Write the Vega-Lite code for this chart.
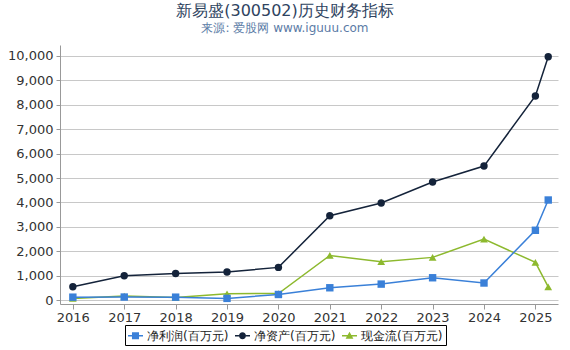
{
  "$schema": "https://vega.github.io/schema/vega-lite/v6.json",
  "autosize": "none",
  "width": 498,
  "height": 259,
  "padding": {"left": 60, "top": 45, "right": 12, "bottom": 46},
  "background": "white",
  "title": {
    "text": "新易盛(300502)历史财务指标",
    "subtitle": "来源: 爱股网 www.iguuu.com",
    "anchor": "middle",
    "dx": -24,
    "offset": 11,
    "fontSize": 16,
    "fontWeight": "normal",
    "font": "DejaVu Sans",
    "color": "#2e4360",
    "subtitleFont": "DejaVu Sans",
    "subtitleFontSize": 12,
    "subtitleColor": "#5b7ba6",
    "subtitlePadding": 4
  },
  "config": {
    "view": {"stroke": null},
    "axis": {
      "labelFont": "DejaVu Sans",
      "labelFontSize": 13,
      "labelColor": "#333333",
      "domainColor": "#999999",
      "tickColor": "#999999",
      "gridColor": "#c8c8c8",
      "title": null
    },
    "legend": {
      "labelFont": "DejaVu Sans",
      "labelFontSize": 12,
      "labelColor": "#222222"
    }
  },
  "data": {
    "values": [
      {"year": 2016, "s": "净利润(百万元)", "v": 120},
      {"year": 2017, "s": "净利润(百万元)", "v": 125},
      {"year": 2018, "s": "净利润(百万元)", "v": 120},
      {"year": 2019, "s": "净利润(百万元)", "v": 70},
      {"year": 2020, "s": "净利润(百万元)", "v": 230},
      {"year": 2021, "s": "净利润(百万元)", "v": 505},
      {"year": 2022, "s": "净利润(百万元)", "v": 655},
      {"year": 2023, "s": "净利润(百万元)", "v": 915},
      {"year": 2024, "s": "净利润(百万元)", "v": 700},
      {"year": 2025, "s": "净利润(百万元)", "v": 2860},
      {"year": 2025.25, "s": "净利润(百万元)", "v": 4100},
      {"year": 2016, "s": "净资产(百万元)", "v": 545},
      {"year": 2017, "s": "净资产(百万元)", "v": 1000},
      {"year": 2018, "s": "净资产(百万元)", "v": 1090},
      {"year": 2019, "s": "净资产(百万元)", "v": 1150},
      {"year": 2020, "s": "净资产(百万元)", "v": 1340},
      {"year": 2021, "s": "净资产(百万元)", "v": 3455},
      {"year": 2022, "s": "净资产(百万元)", "v": 3975},
      {"year": 2023, "s": "净资产(百万元)", "v": 4840},
      {"year": 2024, "s": "净资产(百万元)", "v": 5490},
      {"year": 2025, "s": "净资产(百万元)", "v": 8360},
      {"year": 2025.25, "s": "净资产(百万元)", "v": 9970},
      {"year": 2016, "s": "现金流(百万元)", "v": 70},
      {"year": 2017, "s": "现金流(百万元)", "v": 165},
      {"year": 2018, "s": "现金流(百万元)", "v": 110},
      {"year": 2019, "s": "现金流(百万元)", "v": 260},
      {"year": 2020, "s": "现金流(百万元)", "v": 270},
      {"year": 2021, "s": "现金流(百万元)", "v": 1830},
      {"year": 2022, "s": "现金流(百万元)", "v": 1570},
      {"year": 2023, "s": "现金流(百万元)", "v": 1750},
      {"year": 2024, "s": "现金流(百万元)", "v": 2500},
      {"year": 2025, "s": "现金流(百万元)", "v": 1545},
      {"year": 2025.25, "s": "现金流(百万元)", "v": 545}
    ]
  },
  "encoding": {
    "x": {
      "field": "year",
      "type": "quantitative",
      "scale": {"domain": [2015.75, 2025.44], "nice": false, "zero": false},
      "axis": {"values": [2016, 2017, 2018, 2019, 2020, 2021, 2022, 2023, 2024, 2025], "format": "d", "grid": false, "tickSize": 5, "labelPadding": 2}
    },
    "y": {
      "field": "v",
      "type": "quantitative",
      "scale": {"domain": [-160, 10450], "nice": false, "zero": false},
      "axis": {"values": [0, 1000, 2000, 3000, 4000, 5000, 6000, 7000, 8000, 9000, 10000], "format": ",.0f", "grid": true, "tickSize": 4, "labelPadding": 3}
    }
  },
  "layer": [
    {
      "transform": [{"filter": "datum.s == '现金流(百万元)'"}],
      "mark": {"type": "line", "strokeWidth": 1.5, "color": "#8db92e"}
    },
    {
      "transform": [{"filter": "datum.s == '净资产(百万元)'"}],
      "mark": {"type": "line", "strokeWidth": 1.5, "color": "#14233a"}
    },
    {
      "transform": [{"filter": "datum.s == '净利润(百万元)'"}],
      "mark": {"type": "line", "strokeWidth": 1.5, "color": "#3a80d8"}
    },
    {
      "transform": [{"filter": "datum.s == '现金流(百万元)'"}],
      "mark": {"type": "point", "filled": true, "shape": "triangle-up", "size": 60, "color": "#8db92e", "opacity": 1}
    },
    {
      "transform": [{"filter": "datum.s == '净资产(百万元)'"}],
      "mark": {"type": "point", "filled": true, "shape": "circle", "size": 55, "color": "#14233a", "opacity": 1}
    },
    {
      "transform": [{"filter": "datum.s == '净利润(百万元)'"}],
      "mark": {"type": "point", "filled": true, "shape": "square", "size": 55, "color": "#3a80d8", "opacity": 1}
    },
    {
      "transform": [{"filter": "datum.v < -100000"}],
      "mark": {"type": "point", "filled": true, "opacity": 1},
      "encoding": {
        "color": {
          "field": "s",
          "type": "nominal",
          "scale": {"domain": ["净利润(百万元)", "净资产(百万元)", "现金流(百万元)"], "range": ["#3a80d8", "#14233a", "#8db92e"]},
          "legend": {
            "title": null,
            "orient": "none",
            "legendX": 65,
            "legendY": 280,
            "direction": "horizontal",
            "strokeColor": "#000000",
            "padding": 3,
            "symbolSize": 225,
            "symbolStrokeWidth": 0,
            "labelOffset": 4,
            "columnPadding": 6
          }
        },
        "shape": {
          "field": "s",
          "type": "nominal",
          "scale": {
            "domain": ["净利润(百万元)", "净资产(百万元)", "现金流(百万元)"],
            "range": [
              "M-1,-0.1H-0.47V0.1H-1Z M0.47,-0.1H1V0.1H0.47Z M-0.47,-0.47H0.47V0.47H-0.47Z",
              "M-1,-0.1H-0.47V0.1H-1Z M0.47,-0.1H1V0.1H0.47Z M-0.47,0A0.47,0.47 0 1,1 0.47,0A0.47,0.47 0 1,1 -0.47,0Z",
              "M-1,-0.1H-0.25V0.1H-1Z M0.25,-0.1H1V0.1H0.25Z M0,-0.55L0.52,0.4H-0.52Z"
            ]
          },
          "legend": {
            "title": null,
            "orient": "none",
            "legendX": 65,
            "legendY": 280,
            "direction": "horizontal",
            "strokeColor": "#000000",
            "padding": 3,
            "symbolSize": 225,
            "symbolStrokeWidth": 0,
            "labelOffset": 4,
            "columnPadding": 6
          }
        }
      }
    }
  ]
}
